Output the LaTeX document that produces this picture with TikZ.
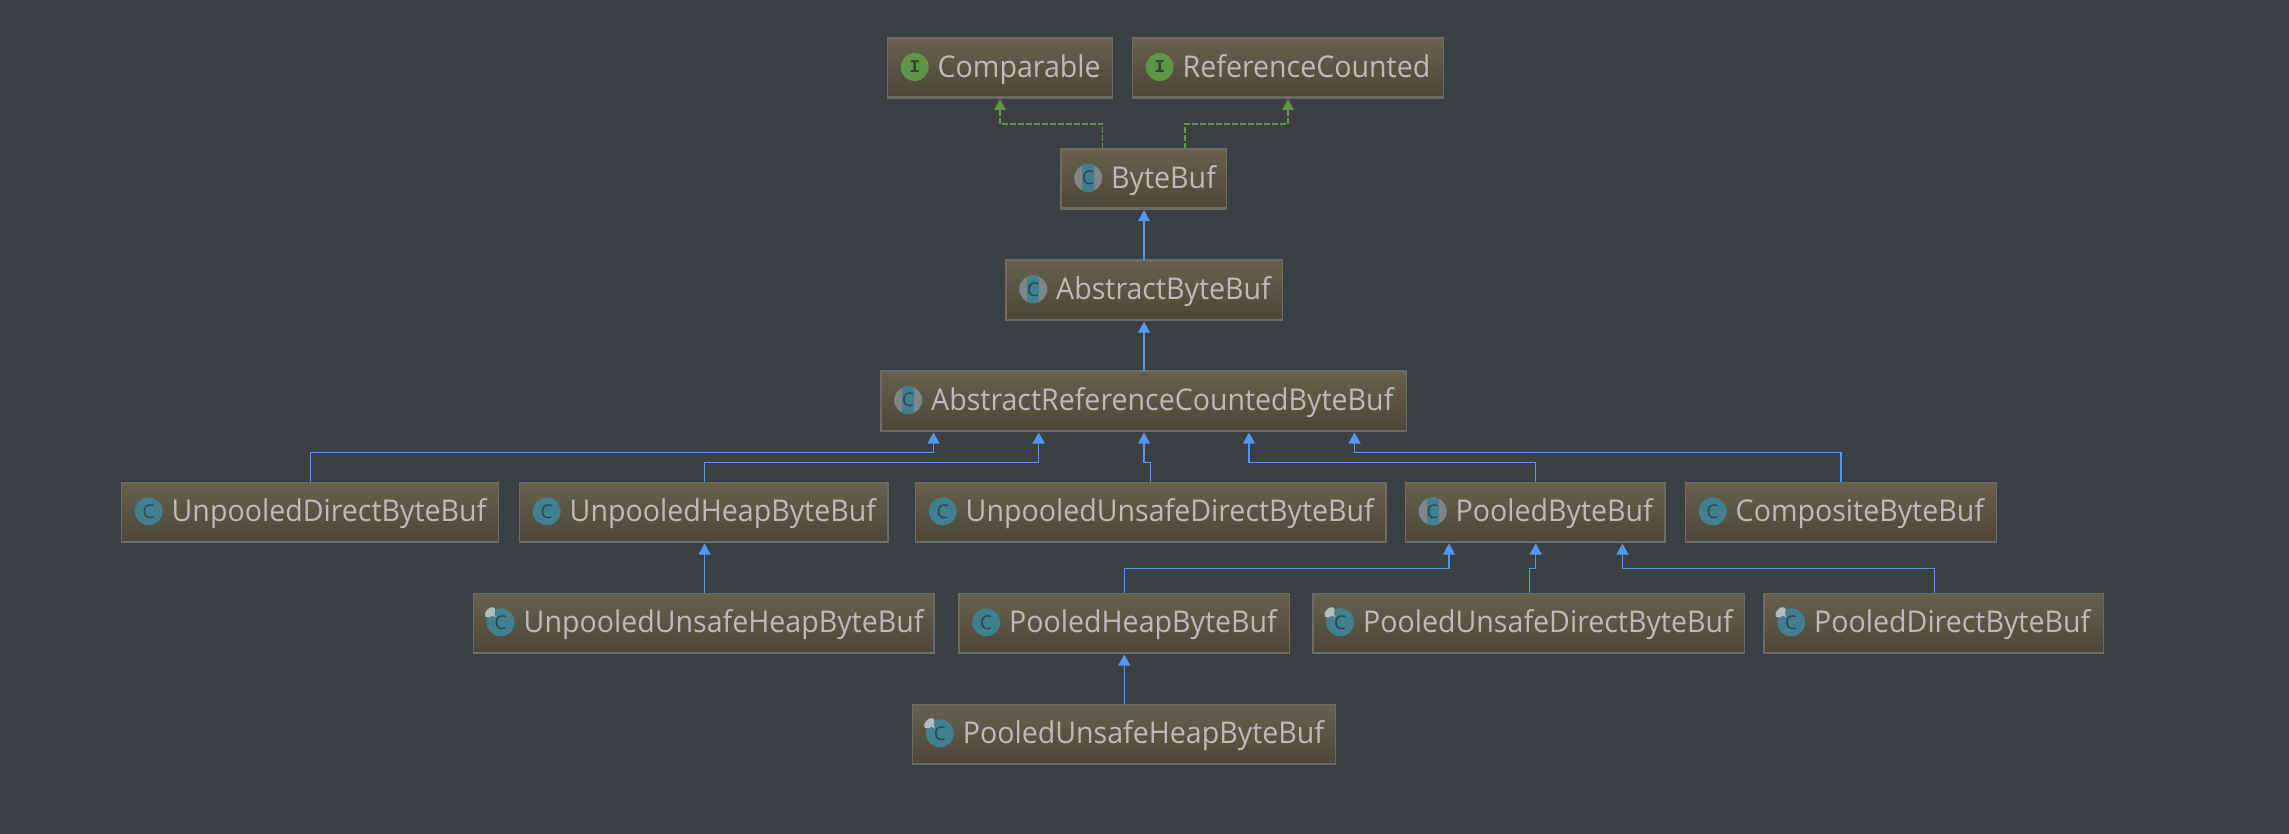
\documentclass[tikz,border=0pt]{standalone}
\usepackage{fontspec}
\setmainfont[FakeStretch=0.952]{Open Sans}
\newfontfamily\iconfont{Liberation Mono}
\newfontfamily\letterfont{Open Sans}
\usetikzlibrary{arrows.meta}
\definecolor{bgc}{HTML}{3C3F41}
\definecolor{boxtop}{HTML}{67614F}
\definecolor{boxbot}{HTML}{4B4638}
\definecolor{boxline}{HTML}{6C6B65}
\definecolor{txt}{HTML}{BBBBB9}
\definecolor{inhc}{HTML}{5297F2}
\definecolor{impc}{HTML}{5F9548}
\definecolor{tealc}{HTML}{40808F}
\definecolor{letc}{HTML}{2A4452}
\definecolor{greyc}{HTML}{7F8587}
\definecolor{pinc}{HTML}{B4BCC0}
\definecolor{ifacel}{HTML}{33452B}
\tikzset{
  x=0.5pt,y=-0.5pt,
  box/.style={draw=boxline,line width=0.7pt,top color=boxtop,bottom color=boxbot,inner sep=0pt,outer sep=0pt,shape=rectangle},
  boxbase/.style={draw=boxline,line width=1.2pt},
  label/.style={anchor=base west,inner sep=0pt,outer sep=0pt,text=txt,font=\fontsize{15}{15}\selectfont},
  icon/.style={circle,inner sep=0pt,outer sep=0pt,minimum size=14pt},
  letter/.style={inner sep=0pt,outer sep=0pt,text=letc,font=\letterfont\fontsize{9.5}{9.5}\selectfont},
  inh/.style={draw=inhc,line width=0.6pt,-{Triangle[width=6pt,length=5.5pt,fill=inhc]},shorten >=0.6pt},
  imp/.style={draw=impc,line width=0.6pt,dash pattern=on 3pt off 1pt,-{Triangle[width=6pt,length=5.5pt,fill=impc]},shorten >=0.6pt},
}
\newcommand\cls[6]{%
  \node[box,minimum width={(#4-#2)*0.5pt},minimum height={(#5-#3)*0.5pt}] (#1) at ({(#2+#4)/2},{(#3+#5)/2}) {};
  \draw[boxbase] ([yshift=0.3pt]#1.south west) -- ([yshift=0.3pt]#1.south east);
  \coordinate (#1p) at ([xshift=13.6pt,yshift=0.5pt]#1.west);
  \node[label] (#1t) at ([xshift=25.1pt,yshift=-4.7pt]#1.west) {#6};
}
\newcommand\iface[1]{\node[icon,fill=impc] (#1i) at (#1p) {};
  \node[letter,text=ifacel,font=\iconfont\bfseries\fontsize{9}{9}\selectfont] (#1c) at (#1i) {I};}
\newcommand\plain[1]{\node[icon,fill=tealc] (#1i) at (#1p) {};
  \node[letter] (#1c) at (#1i) {C};}
\newcommand\abstr[1]{\node[icon,fill=greyc] (#1i) at (#1p) {};
  \begin{scope}\clip (#1i.center) circle[radius=7pt];
  \fill[tealc] ([xshift=-3pt,yshift=-8pt]#1i.center) rectangle ([xshift=3pt,yshift=8pt]#1i.center);
  \end{scope}
  \node[letter] (#1c) at (#1i) {C};}
\newcommand\leafc[1]{\node[icon,fill=tealc] (#1i) at (#1p) {};
  \node[letter] (#1c) at (#1i) {C};
  \begin{scope}[shift={([xshift=-5.3pt,yshift=5pt]#1i.center)},rotate=45]
  \fill[pinc] (0,0) ellipse[x radius=3.2pt,y radius=1.9pt];
  \end{scope}
  \fill[pinc] ([xshift=-5.5pt,yshift=4pt]#1i.center) -- ([xshift=-3.5pt,yshift=5.5pt]#1i.center) -- ([xshift=-2.5pt,yshift=2.5pt]#1i.center) -- cycle;}
\newcommand\conn[6]{%
  \coordinate (gs) at (#3,#6);
  \coordinate (gd) at (#5,#6);
  \draw[#1] (gs |- #2.north) -- (gs) -- (gd) -- (gd |- #4.south);
}
\begin{document}
\begin{tikzpicture}
\fill[bgc] (0,0) rectangle (2289,834);
\useasboundingbox (0,0) rectangle (2289,834);
\cls{cmp}{887.5}{38}{1112.5}{98}{Comparable}\iface{cmp}
\cls{rfc}{1132.5}{38}{1443.5}{98}{ReferenceCounted}\iface{rfc}
\cls{bb}{1061}{149}{1226.5}{209}{ByteBuf}\abstr{bb}
\cls{abb}{1006}{260}{1282.5}{320.5}{AbstractByteBuf}\abstr{abb}
\cls{arc}{881}{371}{1406.5}{431.3}{AbstractReferenceCountedByteBuf}\abstr{arc}
\cls{upd}{121.5}{482.3}{498.5}{542.3}{UnpooledDirectByteBuf}\plain{upd}
\cls{uph}{519.5}{482.3}{888}{542.3}{UnpooledHeapByteBuf}\plain{uph}
\cls{uud}{915.5}{482.3}{1386}{542.3}{UnpooledUnsafeDirectByteBuf}\plain{uud}
\cls{pbb}{1405.5}{482.3}{1665}{542.3}{PooledByteBuf}\abstr{pbb}
\cls{cbb}{1685.5}{482.3}{1996.5}{542.3}{CompositeByteBuf}\plain{cbb}
\cls{uuh}{473.5}{593.3}{934}{653.3}{UnpooledUnsafeHeapByteBuf}\leafc{uuh}
\cls{phb}{959}{593.3}{1289.7}{653.3}{PooledHeapByteBuf}\plain{phb}
\cls{pud}{1313}{593.3}{1744.5}{653.3}{PooledUnsafeDirectByteBuf}\leafc{pud}
\cls{pdb}{1764}{593.3}{2103.5}{653.3}{PooledDirectByteBuf}\leafc{pdb}
\cls{puh}{912.7}{704.3}{1335.7}{764.3}{PooledUnsafeHeapByteBuf}\leafc{puh}
\conn{imp}{bb}{1102.6}{cmp}{1000}{124}
\conn{imp}{bb}{1185}{rfc}{1288}{124}
\conn{inh}{abb}{1144}{bb}{1144}{235}
\conn{inh}{arc}{1144}{abb}{1144}{346}
\conn{inh}{upd}{310.7}{arc}{933.5}{452.5}
\conn{inh}{uph}{704.6}{arc}{1038.7}{462.5}
\conn{inh}{uud}{1150.5}{arc}{1144}{462.5}
\conn{inh}{pbb}{1535.7}{arc}{1249}{462.5}
\conn{inh}{cbb}{1841}{arc}{1354.5}{452.5}
\conn{inh}{uuh}{704.6}{uph}{704.6}{568}
\conn{inh}{phb}{1124.3}{pbb}{1449}{568.3}
\conn{inh}{pud}{1529.6}{pbb}{1535.7}{568.3}
\conn{inh}{pdb}{1934.7}{pbb}{1622.4}{568.3}
\conn{inh}{puh}{1124.3}{phb}{1124.3}{679}
\end{tikzpicture}
\end{document}
